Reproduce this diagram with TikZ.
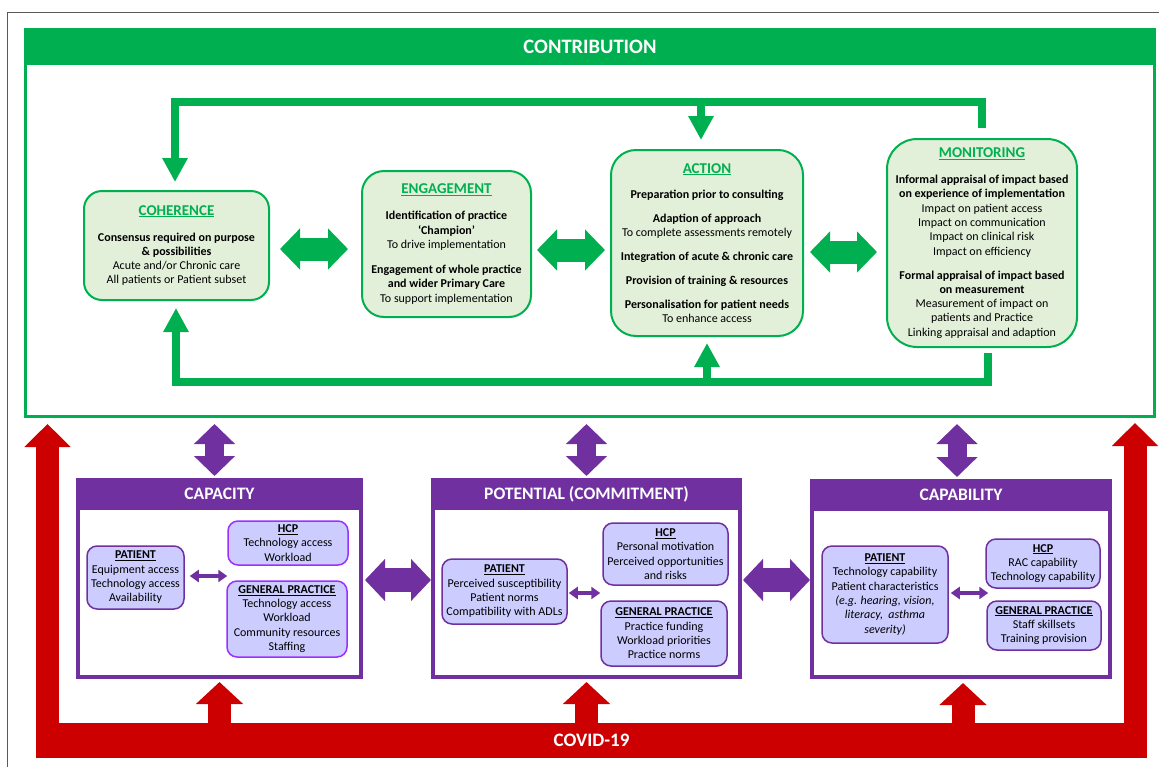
\documentclass[tikz,border=0pt]{standalone}
\usepackage{fontspec}
\setmainfont{Carlito}
\usetikzlibrary{arrows.meta,calc}
\definecolor{cgreen}{HTML}{00B050}
\definecolor{gfill}{HTML}{E2F0D9}
\definecolor{ppurple}{HTML}{7030A0}
\definecolor{pviolet}{HTML}{9B30FF}
\definecolor{pfill}{HTML}{CCCCFF}
\definecolor{cred}{HTML}{CC0000}
\definecolor{fgray}{HTML}{595959}
\newcommand{\fsb}{\fontsize{12}{14.3}\selectfont}
\newcommand{\gttl}[1]{{\fontsize{15}{14.3}\selectfont\bfseries\color{cgreen}\underline{#1}}}
\newcommand{\pttl}[1]{{\bfseries\underline{#1}}}
\tikzset{
  gbox/.style={draw=cgreen, line width=2pt, fill=gfill, align=center, font=\fsb, inner sep=0pt},
  pbox/.style={draw=ppurple, line width=1.5pt, fill=pfill, rounded corners=10pt, align=center, font=\fsb, inner sep=0pt},
  pframe/.style={draw=ppurple, line width=4pt, fill=white, inner sep=0pt},
  phead/.style={fill=ppurple, inner sep=0pt, minimum height=32pt, text=white, font=\fontsize{17.5}{20}\selectfont\bfseries, anchor=north},
  gline/.style={draw=cgreen, line width=8pt, line join=miter},
  gtip/.style={-{Triangle[width=24pt,length=24pt]}},
  gdarrow/.style={draw=cgreen, line width=23pt, {Triangle[width=40pt,length=20pt]}-{Triangle[width=40pt,length=20pt]}},
  phdarrow/.style={draw=ppurple, line width=24pt, {Triangle[width=41pt,length=20pt]}-{Triangle[width=41pt,length=20pt]}},
  pvdarrow/.style={draw=ppurple, line width=19pt, {Triangle[width=40pt,length=20pt]}-{Triangle[width=40pt,length=20pt]}},
  psmall/.style={draw=ppurple, line width=4pt, {Triangle[width=12pt,length=9pt]}-{Triangle[width=12pt,length=9pt]}},
  rarrow/.style={draw=cred, line width=23pt, -{Triangle[width=45pt,length=23pt]}},
  rarrowb/.style={draw=cred, line width=23pt, -{Triangle[width=46pt,length=22pt]}},
}
\begin{document}
\begin{tikzpicture}[x=1pt,y=-1pt]
\useasboundingbox (0,0) rectangle (1159,766);
% outer frame
\draw[fgray, line width=1pt] (7.5,770) -- (7.5,12) -- (1165,12);

% CONTRIBUTION frame
\node[draw=cgreen, line width=3pt, fill=white, minimum width=1129pt, minimum height=387pt, inner sep=0pt] (contrib) at (590,223) {};
\node[fill=cgreen, minimum width=1132pt, minimum height=37pt, inner sep=0pt, anchor=north, text=white, font=\fontsize{20.5}{24}\selectfont\bfseries] (contribh) at (contrib.north) {CONTRIBUTION};

% green boxes
\node[gbox, rounded corners=18pt, minimum width=185pt, minimum height=109pt] (coh) at (176.5,245.5) {%
\gttl{COHERENCE}\\[11.7pt]
\textbf{Consensus required on purpose}\\
\textbf{\& possibilities}\\
Acute and/or Chronic care\\
All patients or Patient subset};

\node[gbox, rounded corners=22pt, minimum width=169pt, minimum height=146pt] (eng) at (446.5,244) {%
\gttl{ENGAGEMENT}\\[11.7pt]
\textbf{Identification of practice}\\
\textbf{‘Champion’}\\
To drive implementation\\[10.7pt]
\textbf{Engagement of whole practice}\\
\textbf{and wider Primary Care}\\
To support implementation};

\node[gbox, rounded corners=25pt, minimum width=192pt, minimum height=186pt] (act) at (707,243) {%
\gttl{ACTION}\\[10.7pt]
\textbf{Preparation prior to consulting}\\[9.7pt]
\textbf{Adaption of approach}\\
To complete assessments remotely\\[9.7pt]
\textbf{Integration of acute \& chronic care}\\[9.7pt]
\textbf{Provision of training \& resources}\\[9.7pt]
\textbf{Personalisation for patient needs}\\
To enhance access};

\node[gbox, rounded corners=30pt, minimum width=190pt, minimum height=208pt] (mon) at (982,243) {%
\gttl{MONITORING}\\[11.7pt]
\textbf{Informal appraisal of impact based}\\
\textbf{on experience of implementation}\\
Impact on patient access\\
Impact on communication\\
Impact on clinical risk\\
Impact on efficiency\\[9.7pt]
\textbf{Formal appraisal of impact based}\\
\textbf{on measurement}\\
Measurement of impact on\\
patients and Practice\\
Linking appraisal and adaption};

% green feedback loops
\coordinate (tl) at (0,102);
\coordinate (bl) at (0,382);
\draw[gline, gtip] ($(mon.north)+(0,-10)$) -- (mon.north |- tl) -- ($(coh.north |- tl)+(-1.5,0)$) -- ($(coh.north)+(-1.5,-8)$);
\draw[gline, gtip] ($(act.north |- tl)+(-6,0)$) -- ($(act.north)+(-6,-9)$);
\draw[gline, gtip] ($(mon.south)+(6,5)$) -- ($(mon.south |- bl)+(6,0)$) -- ($(coh.south |- bl)+(-0.5,0)$) -- ($(coh.south)+(-0.5,7)$);
\draw[gline, gtip] (act.south |- bl) -- ($(act.south)+(0,6)$);

% green double arrows
\coordinate (ga1) at (0,249);
\coordinate (ga2) at (0,250);
\coordinate (ga3) at (0,252);
\draw[gdarrow] ($(coh.east |- ga1)+(10,0)$) -- ($(eng.west |- ga1)+(-13,0)$);
\draw[gdarrow] ($(eng.east |- ga2)+(5,0)$) -- ($(act.west |- ga2)+(-5,0)$);
\draw[gdarrow] ($(act.east |- ga3)+(6,0)$) -- ($(mon.west |- ga3)+(-9,0)$);

% COVID band
\node[fill=cred, minimum width=1111pt, minimum height=35pt, inner sep=0pt, text=white, font=\fontsize{19}{22}\selectfont\bfseries] (covid) at (591.5,740.5) {COVID-19};
\coordinate (rl) at (47.5,424);
\coordinate (rr) at (1135,423);
\draw[rarrow] (covid.west -| rl) -- (rl);
\draw[rarrow] (covid.east -| rr) -- (rr);

% purple frames
\node[pframe, minimum width=283pt, minimum height=197pt] (cap) at (219.5,578.5) {};
\node[phead, minimum width=287pt] (caph) at (cap.north) {CAPACITY};
\node[pframe, minimum width=307pt, minimum height=197pt] (pot) at (586.5,578.5) {};
\node[phead, minimum width=311pt] (poth) at (pot.north) {POTENTIAL (COMMITMENT)};
\node[pframe, minimum width=298pt, minimum height=196pt] (cab) at (961,579) {};
\node[phead, minimum width=302pt] (cabh) at (cab.north) {CAPABILITY};

% red up arrows (from the top edge of the COVID band)
\draw[rarrowb] ($(covid.north -| cap.south)+(0,1)$) -- ($(cap.south)+(0,3)$);
\draw[rarrowb] ($(covid.north -| pot.south)+(0,1)$) -- ($(pot.south)+(0,3)$);
\draw[rarrowb] ($(covid.north -| cab.south)+(2,1)$) -- ($(cab.south)+(2,4)$);

% purple vertical double arrows
\draw[pvdarrow] ($(cap.north |- contrib.south)+(-5,6)$) -- ($(cap.north)+(-5,-2)$);
\draw[pvdarrow] ($(pot.north |- contrib.south)+(0,6)$) -- ($(pot.north)+(0,-2)$);
\draw[pvdarrow] ($(cab.north |- contrib.south)+(-4,6)$) -- ($(cab.north)+(-4,-2)$);

% purple horizontal double arrows
\coordinate (pa) at (0,580);
\draw[phdarrow] ($(cap.east |- pa)+(2,0)$) -- (pot.west |- pa);
\draw[phdarrow] ($(pot.east |- pa)+(1,0)$) -- (cab.west |- pa);

% Capacity inner boxes
\node[pbox, minimum width=97pt, minimum height=63pt] (cpat) at (135.5,577.5) {%
\pttl{PATIENT}\\ Equipment access\\ Technology access\\ Availability};
\node[pbox, draw=pviolet, minimum width=120pt, minimum height=44pt] (chcp) at (288,543) {%
\pttl{HCP}\\ Technology access\\ Workload};
\node[pbox, draw=pviolet, minimum width=120pt, minimum height=76pt] (cgp) at (287,619) {%
\pttl{GENERAL PRACTICE}\\ Technology access\\ Workload\\ Community resources\\ Staffing};
\draw[psmall] ($(cpat.east)+(5,-1.5)$) -- ($(cpat.east -| chcp.west)+(0,-1.5)$);

% Potential inner boxes
\node[pbox, minimum width=125pt, minimum height=65pt] (ppat) at (504.5,591.5) {%
\pttl{PATIENT}\\ Perceived susceptibility\\ Patient norms\\ Compatibility with ADLs};
\node[pbox, minimum width=125pt, minimum height=62pt] (phcp) at (665.5,554) {%
\pttl{HCP}\\ Personal motivation\\ Perceived opportunities\\ and risks};
\node[pbox, minimum width=126pt, minimum height=65pt] (pgp) at (664,633.5) {%
\pttl{GENERAL PRACTICE}\\ Practice funding\\ Workload priorities\\ Practice norms};
\draw[psmall] ($(ppat.east)+(1,1.5)$) -- ($(ppat.east -| pgp.west)+(0,1.5)$);

% Capability inner boxes
\node[pbox, minimum width=126pt, minimum height=97pt] (kpat) at (885,594.5) {%
\pttl{PATIENT}\\ Technology capability\\ Patient characteristics\\ \textit{(e.g. hearing, vision,}\\ \textit{literacy,\ \ asthma}\\ \textit{severity)}};
\node[pbox, minimum width=114pt, minimum height=49pt] (khcp) at (1043,563.5) {%
\pttl{HCP}\\ RAC capability\\ Technology capability};
\node[pbox, minimum width=114pt, minimum height=49pt] (kgp) at (1044,625.5) {%
\pttl{GENERAL PRACTICE}\\ Staff skillsets\\ Training provision};
\draw[psmall] ($(kpat.east)+(2,-1.5)$) -- ($(kpat.east -| kgp.west)+(2,-1.5)$);
\end{tikzpicture}
\end{document}
